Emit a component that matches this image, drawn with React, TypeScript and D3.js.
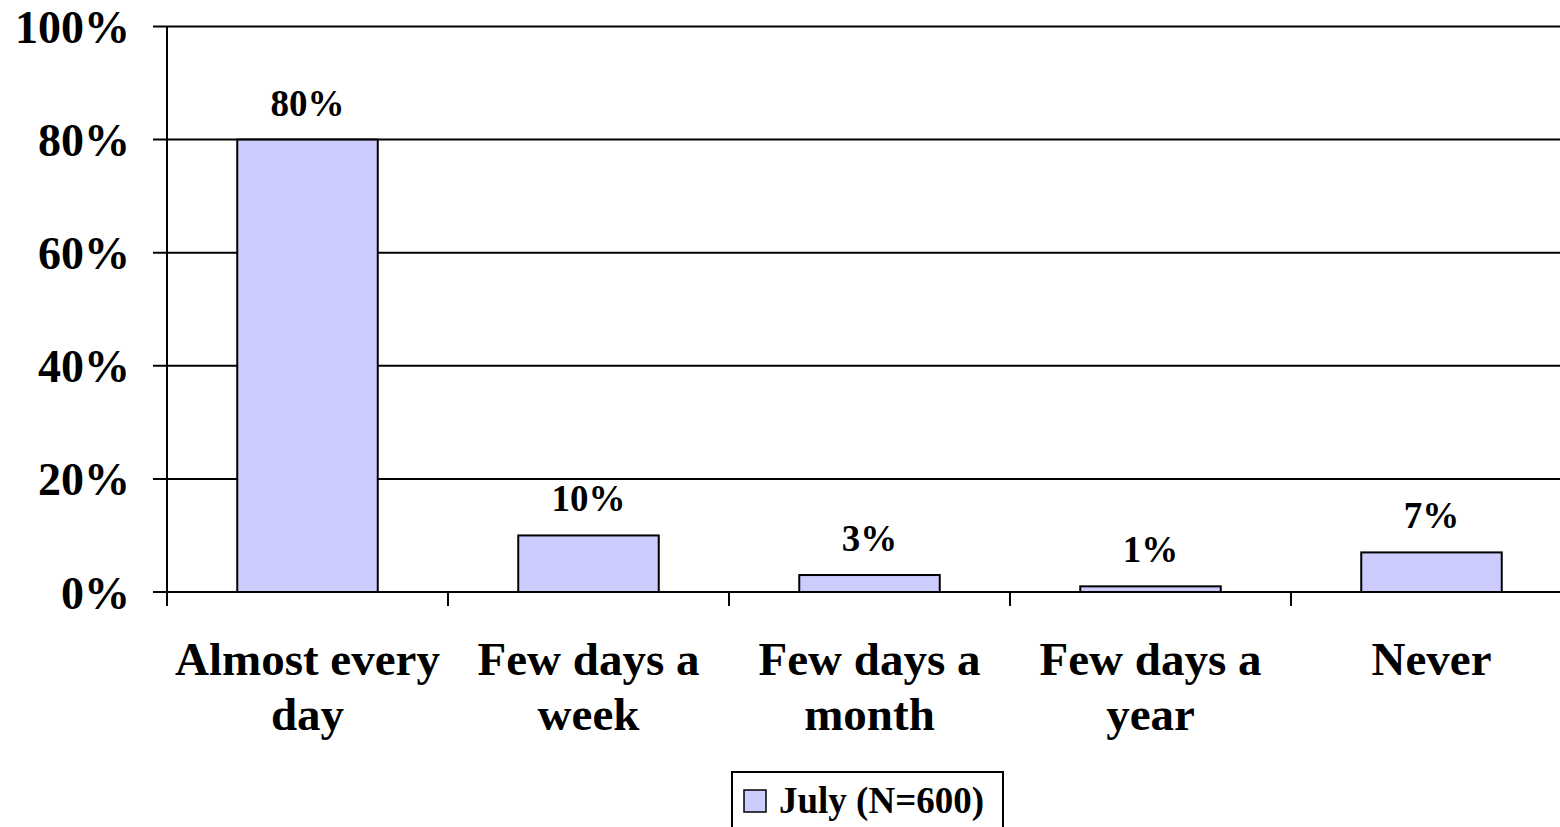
import * as d3 from 'd3'

const categories = [
  ['Almost every', 'day'],
  ['Few days a', 'week'],
  ['Few days a', 'month'],
  ['Few days a', 'year'],
  ['Never'],
]
const julyValues = [80, 10, 3, 1, 7]
const yTicks = [0, 20, 40, 60, 80, 100]
const seriesName = 'July (N=600)'

const W = 1560
const H = 827
const left = 167
const top = 26.5
const bottom = 592
const bandW = 281

const font = '"Liberation Serif", "Times New Roman", serif'
const barFill = '#CCCCFF'

export default function App() {
  const x = d3
    .scaleBand<number>()
    .domain(d3.range(categories.length))
    .range([left, left + bandW * categories.length])
    .paddingInner(0.5)
    .paddingOuter(0.25)
  const y = d3.scaleLinear().domain([0, 100]).range([bottom, top])
  const boundaries = d3.range(categories.length + 1).map((i) => left + i * bandW)

  return (
    <svg
      width={W}
      height={H}
      style={{ position: 'absolute', left: 0, top: 0, display: 'block', background: '#fff' }}
      fontFamily={font}
      fontWeight="bold"
    >
      {/* gridlines + y ticks */}
      {yTicks.map((t) => (
        <g key={t}>
          <line x1={153} x2={left + bandW * 5} y1={y(t)} y2={y(t)} stroke="#000" strokeWidth={2} />
          <text x={130} y={y(t)} dy="0.36em" textAnchor="end" fontSize={46}>
            {t}%
          </text>
        </g>
      ))}
      {/* y axis */}
      <line x1={left} x2={left} y1={top} y2={bottom} stroke="#000" strokeWidth={2} />

      {/* x ticks */}
      {boundaries.map((b, i) => (
        <line key={i} x1={b} x2={b} y1={bottom} y2={bottom + 14} stroke="#000" strokeWidth={2} />
      ))}

      {/* bars */}
      {julyValues.map((v, i) => (
        <g key={i}>
          <rect
            x={x(i)}
            y={y(v)}
            width={x.bandwidth()}
            height={bottom - y(v)}
            fill={barFill}
            stroke="#000"
            strokeWidth={2}
          />
          <text x={(x(i) ?? 0) + x.bandwidth() / 2} y={y(v) - 24} textAnchor="middle" fontSize={37}>
            {v}%
          </text>
        </g>
      ))}
      <line x1={left} x2={left + bandW * 5} y1={bottom} y2={bottom} stroke="#000" strokeWidth={2} />

      {/* category labels */}
      {categories.map((lines, i) => (
        <text key={i} x={(x(i) ?? 0) + x.bandwidth() / 2} y={675} textAnchor="middle" fontSize={47}>
          {lines.map((l, j) => (
            <tspan key={j} x={(x(i) ?? 0) + x.bandwidth() / 2} dy={j === 0 ? 0 : 55}>
              {l}
            </tspan>
          ))}
        </text>
      ))}

      {/* legend */}
      <rect x={732} y={772} width={271} height={80} fill="#fff" stroke="#000" strokeWidth={2} />
      <rect x={744} y={790} width={22} height={22} fill={barFill} stroke="#000" strokeWidth={1.5} />
      <text x={779} y={813} fontSize={37}>
        {seriesName}
      </text>
    </svg>
  )
}
